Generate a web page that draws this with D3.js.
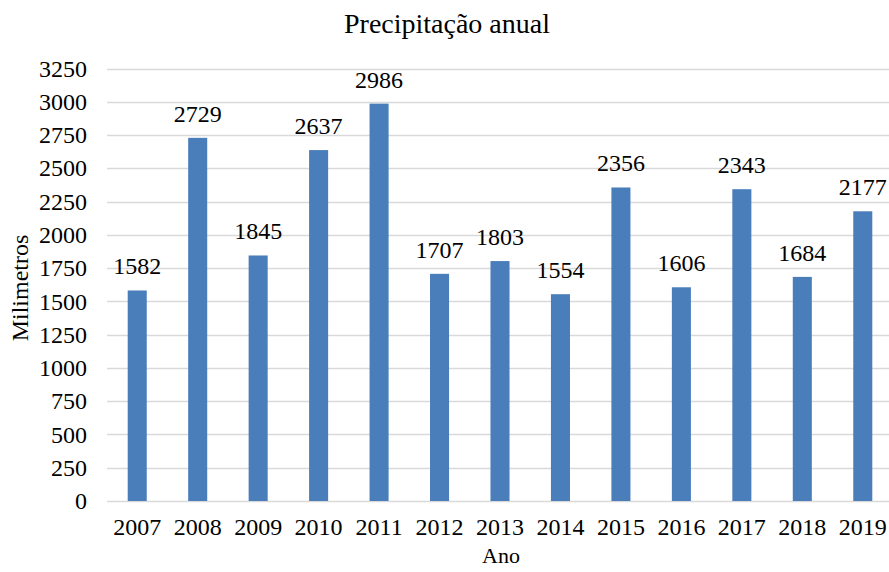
<!DOCTYPE html>
<html>
<head>
<meta charset="utf-8">
<script src="https://cdn.jsdelivr.net/npm/d3@7"></script>
<style>
  body { margin: 0; background: #fff; }
  svg text { font-family: "Liberation Serif", "Times New Roman", serif; fill: #000; }
</style>
</head>
<body>
<svg width="889" height="572"></svg>
<script>
var years = ["2007", "2008", "2009", "2010", "2011", "2012", "2013", "2014", "2015", "2016", "2017", "2018", "2019"];
var rainfall = [1582, 2729, 1845, 2637, 2986, 1707, 1803, 1554, 2356, 1606, 2343, 1684, 2177];
var yTicks = [0, 250, 500, 750, 1000, 1250, 1500, 1750, 2000, 2250, 2500, 2750, 3000, 3250];

var svg = d3.select("svg"),
    width = +svg.attr("width"),
    height = +svg.attr("height");

var plotLeft = 107, plotRight = 893, plotTop = 68.5, plotBottom = 501;

var x = d3.scaleBand()
    .domain(years)
    .range([plotLeft, plotRight])
    .paddingInner(0.685)
    .paddingOuter(0.3425);

var y = d3.scaleLinear()
    .domain([0, 3250])
    .range([plotBottom, plotTop]);

// grid lines
svg.append("g")
    .selectAll("line")
    .data(yTicks)
    .enter()
    .append("line")
    .attr("x1", plotLeft)
    .attr("x2", plotRight)
    .attr("y1", function(d) { return Math.round(y(d)) + 0.5; })
    .attr("y2", function(d) { return Math.round(y(d)) + 0.5; })
    .style("stroke", "#d9d9d9")
    .style("stroke-width", 1.3);

// y tick labels
svg.append("g")
    .selectAll("text")
    .data(yTicks)
    .enter()
    .append("text")
    .attr("x", 87)
    .attr("y", function(d) { return y(d); })
    .attr("dy", "0.34em")
    .attr("text-anchor", "end")
    .style("font-size", "24px")
    .text(function(d) { return d; });

// bars
svg.append("g")
    .selectAll("rect")
    .data(rainfall)
    .enter()
    .append("rect")
    .attr("x", function(d, i) { return x(years[i]); })
    .attr("width", x.bandwidth())
    .attr("y", function(d) { return y(d); })
    .attr("height", function(d) { return plotBottom - y(d); })
    .attr("fill", "#4a7ebb");

// value labels
svg.append("g")
    .selectAll("text")
    .data(rainfall)
    .enter()
    .append("text")
    .attr("x", function(d, i) { return x(years[i]) + x.bandwidth() / 2; })
    .attr("y", function(d) { return y(d) - 16; })
    .attr("text-anchor", "middle")
    .style("font-size", "24px")
    .text(function(d) { return d; });

// x tick labels
svg.append("g")
    .selectAll("text")
    .data(years)
    .enter()
    .append("text")
    .attr("x", function(d) { return x(d) + x.bandwidth() / 2; })
    .attr("y", 535)
    .attr("text-anchor", "middle")
    .style("font-size", "24px")
    .text(function(d) { return d; });

// title
svg.append("text")
    .attr("x", 447)
    .attr("y", 33)
    .attr("text-anchor", "middle")
    .style("font-size", "28px")
    .text("Precipitação anual");

// axis titles
svg.append("text")
    .attr("x", 501)
    .attr("y", 563)
    .attr("text-anchor", "middle")
    .style("font-size", "22px")
    .text("Ano");

svg.append("text")
    .attr("transform", "translate(28,288) rotate(-90)")
    .attr("text-anchor", "middle")
    .style("font-size", "24px")
    .text("Milimetros");
</script>
</body>
</html>
